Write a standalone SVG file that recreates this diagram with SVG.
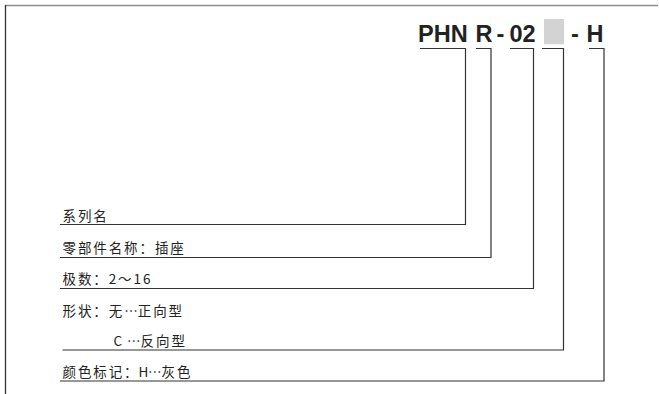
<svg xmlns="http://www.w3.org/2000/svg" width="659" height="394" viewBox="0 0 659 394">
<style>
.t{font-family:"Noto Sans CJK SC","Noto Sans",sans-serif;font-size:13.5px;letter-spacing:1.9px;fill:#222}
.n{letter-spacing:0}
.h{font-family:"Liberation Sans",Arial,sans-serif;font-size:23.5px;font-weight:bold;fill:#222}
.c{fill:none;stroke:#333;stroke-width:1.2}
</style>
<rect width="659" height="394" fill="#fff"/>
<g id="frame">
<line x1="5" y1="5.5" x2="658" y2="5.5" stroke="#8c8c8c" stroke-width="1.3"/>
<line x1="5.5" y1="5" x2="5.5" y2="394" stroke="#333" stroke-width="1.3"/>
</g>
<g id="title">
<text class="h" x="418" y="42.3">PHN</text>
<text class="h" x="475.5" y="42.3">R</text>
<text class="h" x="496.5" y="42.3">-</text>
<text class="h" x="509.5" y="42.3">02</text>
<rect x="544" y="19" width="20" height="25.3" fill="#d3d3d3"/>
<text class="h" x="571" y="42.3">-</text>
<text class="h" x="586.5" y="42.3">H</text>
</g>
<g id="connectors">
<path class="c" d="M420,48.5 H465.5 V224.5 H60"/>
<path class="c" d="M476,48.5 H491 V257.5 H60"/>
<path class="c" d="M510,48.5 H533.5 V288.5 H60"/>
<path class="c" d="M542,48.5 H563.5 V350 H62.5"/>
<path class="c" d="M589,48.5 H604 V381 H60"/>
</g>
<g id="label-series"><text class="t" x="62.5" y="220.7">系列名</text></g>
<g id="label-part"><text class="t" x="62.5" y="253">零部件名称：插座</text></g>
<g id="label-poles"><text class="t" x="62.5" y="284">极数：2～16</text></g>
<g id="label-shape" lang="zh-CN" xml:lang="zh-CN">
<text class="t" x="62.5" y="316.3">形状：无</text>
<text class="t n" x="124.2" y="316.3">…</text>
<text class="t" x="137.8" y="316.3">正向型</text>
<text class="t n" x="113.5" y="345.7">C</text>
<text class="t n" x="127" y="345.7">…</text>
<text class="t" x="140.6" y="345.7">反向型</text>
</g>
<g id="label-color" lang="zh-CN" xml:lang="zh-CN">
<text class="t" x="62.5" y="377">颜色标记：</text>
<text class="t n" x="138.5" y="377">H</text>
<text class="t n" x="148" y="377">…</text>
<text class="t" x="161.6" y="377">灰色</text>
</g>
</svg>
